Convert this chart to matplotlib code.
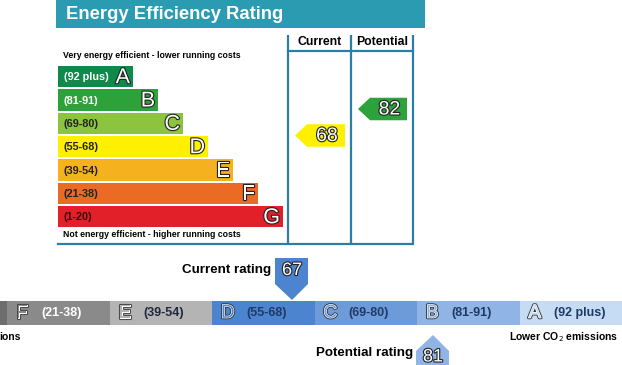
import matplotlib
matplotlib.use("Agg")
import matplotlib.pyplot as plt
from matplotlib.patches import Rectangle, Polygon
import matplotlib.patheffects as pe

plt.rcParams['font.family'] = ['Liberation Sans', 'DejaVu Sans']

# ---- data ----
bands = ["A", "B", "C", "D", "E", "F", "G"]
ranges = ["(92 plus)", "(81-91)", "(69-80)", "(55-68)", "(39-54)", "(21-38)", "(1-20)"]
band_colors = ["#0f8a4a", "#2ea23a", "#8cc43f", "#ffef00", "#f6b11e", "#ec6b24", "#e2202a"]
range_text_colors = ["white", "white", "#222222", "#222222", "#222222", "#222222", "#3a0a0a"]
eer_current = 68
eer_potential = 82
eer_current_color = "#ffef00"
eer_potential_color = "#2ea23a"

strip_bands = ["G", "F", "E", "D", "C", "B", "A"]
strip_ranges = ["(1-20)", "(21-38)", "(39-54)", "(55-68)", "(69-80)", "(81-91)", "(92 plus)"]
strip_colors = ["#6e6e6e", "#8a8a8a", "#b4b4b4", "#4d84cf", "#6d9bd9", "#8fb4e5", "#c6dbf4"]
strip_text_colors = ["white", "white", "#1f2a3f", "#1f3a66", "#1f3a66", "#1f3a66", "#1f3a66"]
co2_current = 67
co2_potential = 81
co2_current_color = "#4d84cf"
co2_potential_color = "#8fb4e5"

W, H = 622, 365
fig = plt.figure(figsize=(W / 100, H / 100), dpi=100)
ax = fig.add_axes([0, 0, 1, 1])
ax.set_xlim(0, W)
ax.set_ylim(H, 0)
ax.axis("off")

outline = [pe.withStroke(linewidth=1.6, foreground="#222222")]
teal = "#2a9bb0"
frame = "#2b7ea6"

# ---- top EER chart ----
ax.add_patch(Rectangle((56, 0), 369, 28, color=teal, lw=0))
ax.text(66, 14.5, "Energy Efficiency Rating", color="white", fontsize=13.3,
        fontweight="bold", va="center", ha="left")

# frame lines
for x in (288, 351, 413):
    ax.plot([x, x], [35, 243], color=frame, lw=1.6, solid_capstyle="butt")
ax.plot([288, 413], [51, 51], color=frame, lw=1.6)
ax.plot([58, 413], [243.5, 243.5], color=frame, lw=1.6)
ax.text(320, 42, "Current", fontsize=8.8, fontweight="bold", ha="center", va="center")
ax.text(382.5, 42, "Potential", fontsize=8.8, fontweight="bold", ha="center", va="center")

ax.text(63, 56, "Very energy efficient - lower running costs", fontsize=6.3,
        fontweight="bold", ha="left", va="center")
ax.text(63, 234.5, "Not energy efficient - higher running costs", fontsize=6.3,
        fontweight="bold", ha="left", va="center")

top0, pitch, bh = 66, 23.35, 21.3
for i, (b, r, c, tc) in enumerate(zip(bands, ranges, band_colors, range_text_colors)):
    y = top0 + i * pitch
    right = 133 + 25 * i
    ax.add_patch(Rectangle((58, y), right - 58, bh, color=c, lw=0))
    ax.text(64, y + bh / 2 + 0.5, r, fontsize=7.8, fontweight="bold", color=tc,
            ha="left", va="center")
    ax.text(right - 3, y + bh / 2 + 1, b, fontsize=15.5, color="white", ha="right",
            va="center", path_effects=outline)


def eer_y(v):
    # vertical position of rating arrows (linear scale)
    return 109 + (82 - v) * 1.893


def left_arrow(xl, xr, yc, color, label):
    h = 22.5
    pts = [(xl, yc), (xl + 12, yc - h / 2), (xr, yc - h / 2), (xr, yc + h / 2), (xl + 12, yc + h / 2)]
    ax.add_patch(Polygon(pts, closed=True, color=color, lw=0))
    ax.text((xl + 12 + xr) / 2 + 1, yc + 1, label, fontsize=14, color="white",
            ha="center", va="center", path_effects=outline)


left_arrow(295, 345, eer_y(eer_current), eer_current_color, str(eer_current))
left_arrow(358, 407, eer_y(eer_potential), eer_potential_color, str(eer_potential))

# ---- bottom CO2 strip ----
seg_w = 102.5
x0 = 622 - 7 * seg_w
sy, sh = 301, 23.5
for i, (b, r, c, tc) in enumerate(zip(strip_bands, strip_ranges, strip_colors, strip_text_colors)):
    xl = x0 + i * seg_w
    ax.add_patch(Rectangle((xl, sy), seg_w + 0.5, sh, color=c, lw=0))
    if xl + 5 > 0:
        ax.text(xl + 9, sy + sh / 2 + 0.5, b, fontsize=13.5, color=c, ha="left",
                va="center", path_effects=[pe.withStroke(linewidth=2.2, foreground="#333333"),
                                           pe.withStroke(linewidth=0.9, foreground="white")])
        ax.text(xl + 34, sy + sh / 2, r, fontsize=9, fontweight="bold", color=tc,
                ha="left", va="center")


def co2_x(v):
    return 292 + (v - 67) * 10.07


# current pointer (down)
cx = co2_x(co2_current)
pts = [(cx - 17, 258), (cx + 16, 258), (cx + 16, 284), (cx, 300), (cx - 17, 284)]
ax.add_patch(Polygon(pts, closed=True, color=co2_current_color, lw=0))
ax.text(cx, 270.5, str(co2_current), fontsize=13, color="white", ha="center",
        va="center", path_effects=outline)
ax.text(271, 270, "Current rating", fontsize=9.6, fontweight="bold", ha="right", va="center")

# potential pointer (up)
px = co2_x(co2_potential)
pts = [(px - 17, 365), (px - 17, 351), (px, 335), (px + 16, 351), (px + 16, 365)]
ax.add_patch(Polygon(pts, closed=True, color=co2_potential_color, lw=0))
ax.text(px, 357, str(co2_potential), fontsize=13, color="white", ha="center",
        va="center", path_effects=outline)
ax.text(413, 353, "Potential rating", fontsize=9.6, fontweight="bold", ha="right", va="center")

ax.text(-1, 337, "ions", fontsize=7.5, fontweight="bold", ha="left", va="center")
ax.text(618, 337, "Lower CO$_2$ emissions", fontsize=7.5, fontweight="bold",
        ha="right", va="center")

fig.savefig("out.png", dpi=100)
